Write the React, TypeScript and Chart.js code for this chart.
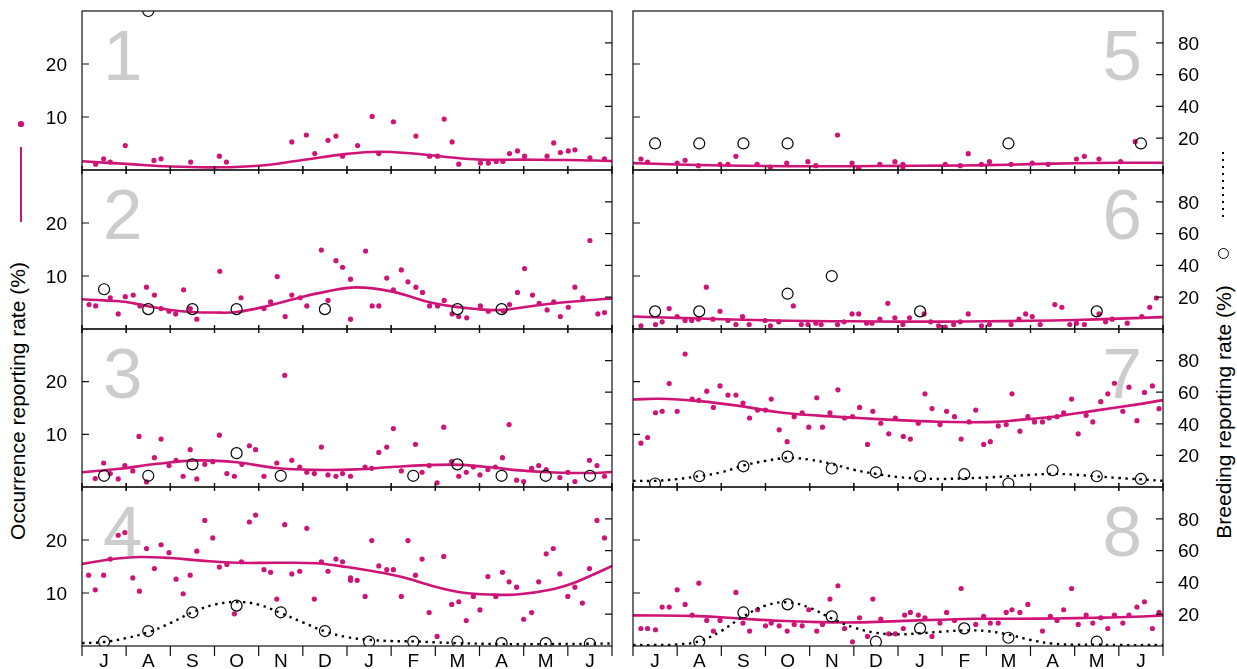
import React, { useEffect, useRef } from "react";
import { Chart, registerables } from "chart.js";

Chart.register(...registerables);

// ---------- axis labels ----------
const MONTHS = ["J", "A", "S", "O", "N", "D", "J", "F", "M", "A", "M", "J"];
const MONTH_EDGES = [0, 1, 2, 3, 4, 5, 6, 7, 8, 9, 10, 11, 12];
const OCC_TICKS = [10, 20];
const BREED_TICKS = [20, 40, 60, 80];
const OCC_TITLE = "Occurrence reporting rate (%)";
const BREED_TITLE = "Breeding reporting rate (%)";

// ---------- panel 1 ----------
const occ1 = [[0.31,1.1],[0.49,2.1],[0.64,1.5],[0.98,4.6],[1.63,1.8],[1.79,2.1],[2.46,1.5],[3.11,2.6],[3.27,1.5],[4.75,5.3],[5.08,6.6],[5.27,3.1],[5.57,5.6],[5.75,6.4],[5.9,2.6],[6.24,4.6],[6.57,10.1],[6.72,3.1],[7.05,9.1],[7.56,6.4],[7.87,2.6],[8.05,2.6],[8.2,9.6],[8.38,5.3],[8.53,1.1],[9.02,1.3],[9.2,1.3],[9.38,1.6],[9.53,1.6],[9.68,3.1],[9.86,3.6],[10.02,2.6],[10.53,2.6],[10.68,5.1],[10.83,3.3],[11.01,3.6],[11.16,3.8],[11.5,2.3],[11.83,2.1]];
const fit1 = [[0,1.65],[1,1.15],[2,0.65],[3,0.5],[4,0.8],[5,1.9],[6,3.05],[6.7,3.45],[7.5,3.1],[8.2,2.5],[9,1.95],[10,1.95],[11,1.9],[12,1.7]];
const breed1 = [null,100,null,null,null,null,null,null,null,null,null,null];

// ---------- panel 2 ----------
const occ2 = [[0.16,4.6],[0.31,4.35],[0.64,5.9],[0.82,2.85],[0.98,6.1],[1.16,6.4],[1.31,4.35],[1.46,7.9],[1.64,6.4],[1.79,3.85],[1.97,3.35],[2.12,2.85],[2.3,7.4],[2.45,3.85],[2.6,1.85],[3.12,10.9],[3.6,5.9],[4.12,3.85],[4.27,5.1],[4.42,9.9],[4.6,2.35],[4.75,6.4],[4.94,5.9],[5.09,4.35],[5.42,14.9],[5.57,5.4],[5.75,12.9],[5.9,11.65],[6.08,9.4],[6.08,1.85],[6.42,14.7],[6.57,4.35],[6.72,4.35],[6.9,9.6],[7.05,7.4],[7.23,11.15],[7.38,8.9],[7.56,7.9],[7.71,6.9],[7.87,4.35],[8.05,4.35],[8.2,5.4],[8.38,2.85],[8.53,2.35],[8.71,2.1],[9.02,4.35],[9.2,3.35],[9.54,3.4],[9.68,4.6],[9.86,6.9],[10.02,11.4],[10.2,6.4],[10.35,4.85],[10.53,3.6],[10.68,5.1],[10.83,2.35],[11.01,4.1],[11.16,7.9],[11.34,5.9],[11.5,16.7],[11.68,2.85],[11.83,3.1]];
const fit2 = [[0,5.6],[0.5,5.4],[1,5.1],[1.5,4.3],[2,3.6],[2.5,3.2],[3,3.1],[3.5,3.2],[4.2,4.35],[5,6.1],[5.5,7.0],[6.2,7.85],[7,7.1],[8,4.8],[9,3.7],[9.5,3.6],[10.2,4.35],[11,5.1],[12,5.75]];
const breed2 = [25,12.5,12.5,12.5,null,12.5,null,null,12.5,12.5,null,null];

// ---------- panel 3 ----------
const occ3 = [[0.3,1.6],[0.49,4.56],[0.64,2.55],[0.82,1.54],[0.97,4.06],[1.15,3.05],[1.29,9.6],[1.46,0.97],[1.64,5.57],[1.79,9.1],[1.97,4.06],[2.13,5.06],[2.29,2.04],[2.45,7.08],[2.6,1.54],[2.78,4.3],[2.96,4.8],[3.11,9.84],[3.28,2.55],[3.45,2.04],[3.62,4.3],[3.79,7.83],[3.93,7.08],[4.12,2.04],[4.41,4.56],[4.59,21.2],[4.75,5.06],[4.93,3.8],[5.09,2.8],[5.26,2.55],[5.42,7.58],[5.57,2.3],[5.75,2.04],[5.9,2.55],[6.08,2.04],[6.41,3.8],[6.56,3.55],[6.72,6.57],[6.9,7.58],[7.05,11.1],[7.23,3.05],[7.55,8.1],[7.7,2.8],[7.86,4.06],[8.04,0.79],[8.19,11.35],[8.37,4.8],[8.53,2.04],[8.7,2.8],[8.86,3.8],[9.01,2.3],[9.19,3.3],[9.36,3.8],[9.52,5.57],[9.67,11.85],[9.84,1.29],[10.0,1.04],[10.18,3.55],[10.34,4.06],[10.51,3.3],[10.82,1.8],[11.0,2.8],[11.16,1.04],[11.49,5.06],[11.66,4.06],[11.83,2.04]];
const fit3 = [[0,2.8],[0.85,3.45],[1.7,4.4],[2.6,5.05],[3.5,4.7],[4.4,3.6],[5.3,3.25],[6.2,3.35],[7.1,3.85],[8,4.2],[8.6,4.2],[9.3,3.7],[9.9,3.15],[10.7,2.75],[11.5,2.65],[12,2.85]];
const breed3 = [7.1,7.1,14.3,21.4,7.1,null,null,7.1,14.3,7.1,7.1,7.1];

// ---------- panel 4 ----------
const occ4 = [[0.15,13.36],[0.3,10.6],[0.49,13.36],[0.64,16.4],[0.82,20.9],[0.97,21.4],[1.15,12.85],[1.3,10.35],[1.46,18.4],[1.64,14.6],[1.79,19.1],[1.97,17.6],[2.13,12.6],[2.29,9.86],[2.45,13.36],[2.6,17.9],[2.78,23.7],[2.96,20.4],[3.11,14.9],[3.28,15.4],[3.45,6.08],[3.61,15.9],[3.79,23.4],[3.93,24.7],[4.12,14.4],[4.27,13.9],[4.41,8.85],[4.59,22.9],[4.75,13.6],[4.93,14.1],[5.09,22.2],[5.26,8.85],[5.42,15.9],[5.57,14.1],[5.75,16.4],[5.9,15.9],[6.08,12.85],[6.08,12.4],[6.23,12.4],[6.41,9.35],[6.56,19.9],[6.72,15.1],[6.9,14.4],[7.05,14.4],[7.23,9.35],[7.38,19.9],[7.55,13.36],[7.7,16.4],[7.86,6.3],[8.04,1.8],[8.19,16.9],[8.37,7.85],[8.53,8.35],[8.7,4.8],[8.86,9.35],[9.01,6.8],[9.19,13.1],[9.37,9.35],[9.52,13.9],[9.67,12.1],[9.84,11.1],[10.0,5.05],[10.18,6.3],[10.34,12.1],[10.51,17.4],[10.67,18.4],[10.82,13.6],[11.0,9.35],[11.16,11.1],[11.33,8.1],[11.49,14.6],[11.66,23.7],[11.83,20.4]];
const fit4 = [[0,15.5],[0.8,16.5],[1.3,16.8],[2,16.6],[2.7,16.1],[3.5,15.7],[4.4,15.7],[5.3,15.6],[6,14.9],[6.6,14.1],[7.2,13.1],[8,11.2],[8.6,10.1],[9.3,9.7],[9.9,9.75],[10.6,10.6],[11.1,11.8],[11.5,13.2],[12,15.1]];
const breed4 = [2.7,9.4,21.2,25.4,21.2,9.4,2.7,2.7,2.7,1.8,1.8,1.4];
const bfit4 = [[0,1.8],[0.5,2.5],[1,5.0],[1.5,8.6],[2,14.4],[2.5,21.2],[3,26],[3.5,27.7],[4,26],[4.5,20.7],[5,14.9],[5.5,9.2],[6,5.6],[6.5,3.9],[7,3.1],[7.5,2.9],[8,2.3],[8.5,1.8],[9.5,1.2],[10.5,1.2],[11.5,1.4],[12,1.6]];

// ---------- panel 5 ----------
const occ5 = [[0.18,2.08],[0.33,1.5],[1.0,1.32],[1.18,1.83],[1.48,0.81],[1.97,1.08],[2.15,1.08],[2.33,2.58],[2.81,1.08],[3.11,0.57],[3.48,1.32],[3.96,1.57],[4.14,0.81],[4.63,6.6],[4.96,1.32],[5.11,0.32],[5.59,1.08],[5.93,1.57],[6.11,1.08],[6.11,0.57],[7.07,1.08],[7.41,0.81],[7.59,3.08],[7.89,1.08],[8.07,1.57],[8.56,1.08],[9.04,1.32],[9.4,1.08],[10.04,2.08],[10.22,2.58],[10.55,2.08],[11.04,1.57],[11.37,5.34]];
const fit5 = [[0,1.3],[1,1.05],[2,0.85],[3,0.75],[4,0.7],[5,0.72],[6,0.78],[7,0.82],[8,0.92],[9,1.1],[10,1.28],[11,1.36],[12,1.38]];
const breed5 = [16.7,16.7,16.7,16.7,null,null,null,null,16.7,null,null,16.7];

// ---------- panel 6 ----------
const occ6 = [[0.18,0.6],[0.51,0.85],[0.66,1.35],[0.82,3.85],[1.0,2.35],[1.18,1.6],[1.33,1.6],[1.48,1.85],[1.66,7.9],[1.81,1.85],[1.97,3.35],[2.15,1.6],[2.33,0.85],[2.48,2.35],[2.63,0.85],[2.99,1.6],[3.11,0.6],[3.3,1.35],[3.63,4.35],[3.81,0.85],[3.96,0.85],[4.14,1.1],[4.26,0.85],[4.63,0.85],[4.78,1.35],[4.96,2.85],[5.11,2.85],[5.29,1.1],[5.41,1.1],[5.59,1.85],[5.77,4.85],[5.93,2.1],[6.11,0.85],[6.26,2.1],[6.59,2.85],[6.74,1.35],[6.92,0.6],[7.07,0.35],[7.26,0.85],[7.41,1.35],[7.59,2.85],[7.89,0.6],[8.07,0.85],[8.56,0.85],[8.74,1.85],[8.89,2.85],[9.04,2.35],[9.22,0.85],[9.55,4.6],[9.71,4.1],[9.89,0.85],[10.04,1.1],[10.22,0.85],[10.55,2.85],[10.7,1.35],[10.85,1.85],[11.19,1.1],[11.52,2.35],[11.7,4.1],[11.85,5.85]];
const fit6 = [[0,2.35],[1,2.1],[2,1.85],[3,1.65],[4,1.5],[5,1.45],[6,1.4],[7,1.4],[8,1.45],[9,1.55],[10,1.7],[11,1.95],[12,2.25]];
const breed6 = [11.1,11.1,null,22.2,33.3,null,11.1,null,null,null,11.1,null];

// ---------- panel 7 ----------
const occ7 = [[0.18,8.33],[0.33,9.4],[0.51,14.1],[0.66,14.37],[0.82,19.65],[1.0,14.37],[1.18,25.25],[1.34,16.7],[1.49,16.45],[1.67,18.2],[1.82,15.1],[1.97,19.2],[2.15,17.45],[2.33,17.45],[2.49,15.94],[2.64,13.1],[2.82,14.6],[3.0,14.6],[3.13,16.7],[3.31,10.85],[3.49,8.6],[3.65,13.36],[3.83,14.1],[3.98,11.35],[4.16,16.95],[4.29,11.35],[4.46,14.1],[4.64,18.46],[4.79,13.1],[4.97,13.36],[5.13,15.1],[5.31,8.08],[5.43,14.37],[5.61,12.1],[5.79,10.1],[5.94,13.1],[6.12,9.6],[6.28,9.1],[6.46,12.1],[6.61,17.7],[6.77,14.9],[6.95,11.85],[7.1,14.37],[7.28,13.36],[7.43,9.1],[7.61,12.36],[7.76,14.6],[7.94,8.08],[8.09,8.6],[8.27,11.6],[8.45,11.85],[8.58,17.7],[8.76,10.6],[8.94,13.36],[9.09,12.36],[9.27,12.36],[9.42,13.1],[9.6,13.36],[9.75,14.1],[9.93,16.7],[10.08,10.1],[10.26,13.6],[10.41,12.36],[10.59,16.2],[10.75,17.7],[10.9,19.7],[11.09,14.37],[11.23,18.96],[11.41,12.6],[11.58,17.95],[11.76,19.2],[11.91,14.87]];
const fit7 = [[0,16.6],[0.6,16.76],[1.5,16.3],[2.4,15.4],[3.3,14.2],[4.2,13.55],[5.1,13.1],[6,12.7],[6.9,12.4],[7.6,12.3],[8.2,12.36],[8.7,12.7],[9.56,13.4],[10.46,14.5],[11.35,15.6],[12,16.5]];
const breed7 = [2.2,6.8,13.1,19.2,11.7,9.3,6.8,8.1,2.2,10.6,6.8,5.1];
const bfit7 = [[0,3.9],[0.5,3.9],[1,5.0],[1.5,6.9],[2,9.3],[2.5,13.6],[3,16.5],[3.5,18.4],[4,17.3],[4.5,14.6],[5,10.9],[5.5,8.3],[6,6.3],[6.5,5.4],[7,5.1],[7.5,5.5],[8,6.0],[8.5,6.8],[9,7.7],[9.5,8.3],[10,7.8],[10.5,6.7],[11,5.7],[11.5,4.8],[12,3.9]];

// ---------- panel 8 ----------
const occ8 = [[0.18,3.3],[0.33,3.3],[0.51,3.07],[0.66,7.34],[0.82,7.34],[1.0,10.6],[1.18,7.85],[1.34,5.83],[1.49,11.85],[1.67,4.83],[1.82,2.81],[1.97,4.83],[2.33,10.1],[2.49,4.32],[2.64,2.81],[2.82,6.84],[3.0,3.8],[3.13,4.32],[3.31,3.8],[3.49,2.81],[3.65,4.07],[3.83,3.8],[3.98,6.84],[4.16,2.81],[4.29,4.07],[4.46,8.86],[4.64,11.37],[4.79,3.3],[4.97,0.8],[5.13,5.33],[5.31,1.8],[5.43,8.86],[5.61,5.08],[5.79,2.3],[5.94,2.3],[6.12,3.3],[6.15,5.83],[6.28,6.34],[6.46,5.83],[6.61,5.33],[6.77,1.8],[6.95,4.32],[7.1,6.34],[7.28,4.83],[7.43,10.85],[7.76,4.07],[7.94,5.58],[8.09,4.32],[8.27,4.32],[8.45,6.34],[8.58,6.84],[8.76,6.34],[8.94,7.85],[9.27,2.81],[9.45,5.58],[9.6,4.83],[9.75,6.84],[9.93,10.85],[10.08,4.07],[10.26,5.83],[10.41,4.32],[10.59,5.33],[10.75,3.3],[10.9,5.83],[11.09,4.32],[11.23,5.83],[11.41,7.34],[11.58,8.35],[11.76,3.3],[11.91,6.34]];
const fit8 = [[0,5.77],[1.5,5.64],[2.4,5.2],[3.3,4.76],[4.2,4.5],[5.1,4.45],[6,4.7],[6.9,4.95],[7.8,5.14],[8.7,5.14],[9.56,5.2],[10.46,5.33],[11.35,5.52],[12,5.77]];
const breed8 = [null,2.7,21.1,26.2,18.6,2.7,11.1,11.1,5.2,null,2.7,null];
const bfit8 = [[0,0.6],[0.5,0.6],[1,1.0],[1.5,3.0],[2,9.5],[2.5,18.6],[3,25.4],[3.5,27.5],[4,24],[4.5,17.3],[5,11.6],[5.5,8.3],[6,7.3],[6.5,8.0],[7,9.0],[7.5,9.8],[8,9.4],[8.5,7.2],[9,3.8],[9.5,1.5],[10,0.8],[10.5,0.8],[11,0.6],[12,0.6]];

// ---------- styling / layout ----------
const PINK = "#cf1477";
const GREY_NUM = "#cccccc";
const FONT = '"Liberation Sans", Arial, Helvetica, sans-serif';
const TICK_FONT_SIZE = 19;
const ROW_TOPS = [11, 170, 329, 487];
const ROW_BOTTOMS = [170, 329, 487, 646];

type Pair = number[];
interface PanelCfg {
  label: string;
  col: number;
  row: number;
  occ: Pair[];
  fit: Pair[];
  breed: (number | null)[];
  bfit: Pair[] | null;
}

const PANELS: PanelCfg[] = [
  { label: "1", col: 0, row: 0, occ: occ1, fit: fit1, breed: breed1, bfit: null },
  { label: "2", col: 0, row: 1, occ: occ2, fit: fit2, breed: breed2, bfit: null },
  { label: "3", col: 0, row: 2, occ: occ3, fit: fit3, breed: breed3, bfit: null },
  { label: "4", col: 0, row: 3, occ: occ4, fit: fit4, breed: breed4, bfit: bfit4 },
  { label: "5", col: 1, row: 0, occ: occ5, fit: fit5, breed: breed5, bfit: null },
  { label: "6", col: 1, row: 1, occ: occ6, fit: fit6, breed: breed6, bfit: null },
  { label: "7", col: 1, row: 2, occ: occ7, fit: fit7, breed: breed7, bfit: bfit7 },
  { label: "8", col: 1, row: 3, occ: occ8, fit: fit8, breed: breed8, bfit: bfit8 },
];

const decorPlugin = {
  id: "decor",
  beforeDatasetsDraw(chart: any, _args: any, opts: any) {
    const { ctx, chartArea: a } = chart;
    ctx.save();
    ctx.font = `71px ${FONT}`;
    ctx.fillStyle = GREY_NUM;
    ctx.textBaseline = "alphabetic";
    if (opts.col === 0) {
      ctx.textAlign = "left";
      ctx.fillText(opts.label, a.left + 21, a.top + 69);
    } else {
      ctx.textAlign = "right";
      ctx.fillText(opts.label, a.right - 21, a.top + 69);
    }
    ctx.restore();
  },
  afterDraw(chart: any, _args: any, opts: any) {
    const { ctx, chartArea: a, scales } = chart;
    ctx.save();
    ctx.strokeStyle = "#111";
    ctx.lineWidth = 1.2;
    ctx.strokeRect(a.left, a.top, a.right - a.left, a.bottom - a.top);
    ctx.beginPath();
    const tk = 7;
    OCC_TICKS.forEach((v) => {
      const y = scales.y.getPixelForValue(v);
      ctx.moveTo(a.left, y);
      ctx.lineTo(a.left + tk, y);
    });
    BREED_TICKS.forEach((v) => {
      const y = scales.y2.getPixelForValue(v);
      ctx.moveTo(a.right - tk, y);
      ctx.lineTo(a.right, y);
    });
    MONTH_EDGES.forEach((v) => {
      const x = scales.x.getPixelForValue(v);
      if (opts.row === 3) {
        ctx.moveTo(x, a.bottom);
        ctx.lineTo(x, a.bottom + 10);
      } else {
        ctx.moveTo(x, a.bottom - 4);
        ctx.lineTo(x, a.bottom + 4);
      }
      if (opts.row > 0) {
        ctx.moveTo(x, a.top - 4);
        ctx.lineTo(x, a.top + 4);
      }
    });
    ctx.stroke();
    ctx.restore();
  },
};

const clearPadding = (s: any) => {
  s.paddingTop = 0;
  s.paddingBottom = 0;
  s.paddingLeft = 0;
  s.paddingRight = 0;
};

function Panel({ cfg }: { cfg: PanelCfg }) {
  const ref = useRef<HTMLCanvasElement | null>(null);
  const { col, row } = cfg;
  const isBottom = row === 3;
  const top = ROW_TOPS[row];
  const bottom = ROW_BOTTOMS[row];
  const canvasTop = top - 8;
  const canvasH = isBottom ? 669 - canvasTop : bottom - top + 16;
  const canvasLeft = col === 0 ? 0 : 623;
  const canvasW = col === 0 ? 622 : 614;

  useEffect(() => {
    if (!ref.current) return;
    const tickFont = { family: FONT, size: TICK_FONT_SIZE };
    const datasets: any[] = [];
    if (cfg.bfit) {
      datasets.push({
        data: cfg.bfit.map(([x, y]) => ({ x, y })),
        yAxisID: "y2",
        showLine: true,
        borderColor: "#000",
        borderWidth: 2.4,
        borderDash: [2.4, 4.6],
        pointRadius: 0,
        tension: 0.4,
        fill: false,
      });
    }
    datasets.push({
      data: cfg.breed
        .map((v, i) => (v == null ? null : { x: i + 0.5, y: v }))
        .filter((p) => p !== null),
      yAxisID: "y2",
      showLine: false,
      pointRadius: 5.5,
      pointBorderWidth: 1.2,
      pointBorderColor: "#000",
      pointBackgroundColor: "rgba(0,0,0,0)",
    });
    datasets.push({
      data: cfg.fit.map(([x, y]) => ({ x, y })),
      yAxisID: "y",
      showLine: true,
      borderColor: PINK,
      borderWidth: 2.6,
      pointRadius: 0,
      tension: 0.4,
      fill: false,
    });
    datasets.push({
      data: cfg.occ.map(([x, y]) => ({ x, y })),
      yAxisID: "y",
      showLine: false,
      pointRadius: 2.6,
      pointBorderWidth: 0,
      pointBackgroundColor: PINK,
      pointBorderColor: PINK,
    });

    const chart = new Chart(ref.current, {
      type: "scatter",
      data: { datasets },
      plugins: [decorPlugin],
      options: {
        animation: false,
        responsive: false,
        events: [],
        layout: {
          autoPadding: false,
          padding: {
            top: 8,
            bottom: isBottom ? 0 : 8,
            left: col === 1 ? 10 : 0,
            right: col === 0 ? 10 : 0,
          },
        },
        plugins: {
          legend: { display: false },
          tooltip: { enabled: false },
          decor: { label: cfg.label, col, row },
        } as any,
        scales: {
          x: {
            type: "linear",
            min: 0,
            max: 12,
            display: isBottom,
            position: "bottom",
            afterBuildTicks: (s: any) => {
              s.ticks = MONTHS.map((_, i) => ({ value: i + 0.5 }));
            },
            afterFit: (s: any) => {
              if (isBottom) s.height = 23;
              clearPadding(s);
            },
            ticks: {
              callback: (_v: any, i: number) => MONTHS[i],
              autoSkip: false,
              maxRotation: 0,
              minRotation: 0,
              font: tickFont,
              color: "#000",
              padding: 4,
            },
            grid: { display: false, drawTicks: false },
            border: { display: false },
          },
          y: {
            type: "linear",
            min: 0,
            max: 30,
            position: "left",
            display: col === 0,
            afterBuildTicks: (s: any) => {
              s.ticks = OCC_TICKS.map((v) => ({ value: v }));
            },
            afterFit: (s: any) => {
              if (col === 0) s.width = 82;
              clearPadding(s);
            },
            ticks: { font: tickFont, color: "#000", padding: 15, labelOffset: 1.5 },
            grid: { display: false, drawTicks: false },
            border: { display: false },
          },
          y2: {
            type: "linear",
            min: 0,
            max: 100,
            position: "right",
            display: col === 1,
            afterBuildTicks: (s: any) => {
              s.ticks = BREED_TICKS.map((v) => ({ value: v }));
            },
            afterFit: (s: any) => {
              if (col === 1) s.width = 74;
              clearPadding(s);
            },
            ticks: { font: tickFont, color: "#000", padding: 15, labelOffset: 1.5 },
            grid: { display: false, drawTicks: false },
            border: { display: false },
          },
        },
      } as any,
    });
    return () => chart.destroy();
  }, []);

  return (
    <canvas
      ref={ref}
      width={canvasW}
      height={canvasH}
      style={{ position: "absolute", left: canvasLeft, top: canvasTop, width: canvasW, height: canvasH }}
    />
  );
}

const abs = (o: React.CSSProperties): React.CSSProperties => ({ position: "absolute", ...o });

export default function App() {
  return (
    <div
      style={{
        position: "absolute",
        left: 0,
        top: 0,
        width: 1237,
        height: 669,
        overflow: "hidden",
        background: "#fff",
        fontFamily: FONT,
      }}
    >
      {/* left legend keys */}
      <div style={abs({ left: 18.4, top: 121.4, width: 5.2, height: 5.2, borderRadius: "50%", background: PINK })} />
      <div style={abs({ left: 19.7, top: 147, width: 2.6, height: 75, background: PINK })} />
      {/* left title */}
      <div
        style={abs({
          left: 18 - 200,
          top: 401 - 12,
          width: 400,
          height: 24,
          lineHeight: "24px",
          fontSize: 21,
          textAlign: "center",
          whiteSpace: "nowrap",
          color: "#000",
          transform: "rotate(-90deg)",
        })}
      >
        {OCC_TITLE}
      </div>
      {/* right legend keys */}
      <div
        style={abs({
          left: 1221.8,
          top: 152,
          width: 2.4,
          height: 70,
          background: "repeating-linear-gradient(to bottom, #000 0px, #000 2.4px, transparent 2.4px, transparent 7px)",
        })}
      />
      <div
        style={abs({
          left: 1223 - 5.5,
          top: 253 - 5.5,
          width: 11,
          height: 11,
          boxSizing: "border-box",
          border: "1.2px solid #000",
          borderRadius: "50%",
        })}
      />
      {/* right title */}
      <div
        style={abs({
          left: 1224 - 200,
          top: 411.5 - 12,
          width: 400,
          height: 24,
          lineHeight: "24px",
          fontSize: 21,
          textAlign: "center",
          whiteSpace: "nowrap",
          color: "#000",
          transform: "rotate(-90deg)",
        })}
      >
        {BREED_TITLE}
      </div>
      {PANELS.map((p) => (
        <Panel key={p.label} cfg={p} />
      ))}
    </div>
  );
}
